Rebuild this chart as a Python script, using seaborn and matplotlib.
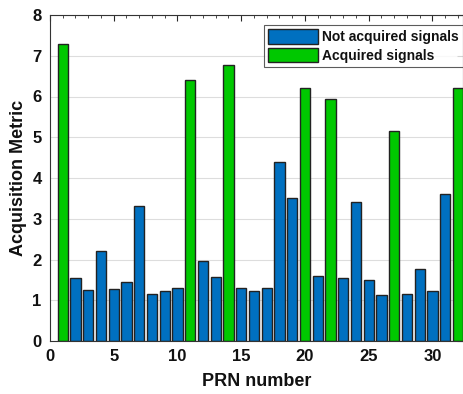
import pandas as pd
import numpy as np
import matplotlib.pyplot as plt
import seaborn as sns
from matplotlib.ticker import MultipleLocator

prn = list(range(1, 33))
metric = [7.3, 1.55, 1.25, 2.2, 1.28, 1.45, 3.32, 1.15, 1.22, 1.3,
          6.4, 1.97, 1.57, 6.77, 1.29, 1.23, 1.29, 4.4, 3.5, 6.2,
          1.59, 5.95, 1.54, 3.4, 1.5, 1.14, 5.15, 1.15, 1.76, 1.23,
          3.61, 6.2]
acquired_prn = [1, 11, 14, 20, 22, 27, 32]

df = pd.DataFrame({'PRN': prn, 'Metric': metric})
df['Status'] = np.where(df['PRN'].isin(acquired_prn), 'Acquired signals', 'Not acquired signals')

sns.set_style('white')
plt.rcParams['font.family'] = ['Liberation Sans', 'DejaVu Sans']
plt.rcParams['font.weight'] = 'bold'

fig = plt.figure(figsize=(4.64, 3.94), dpi=100)
ax = fig.add_axes([50/464, 1 - 341/394, 413/464, 326/394])

sns.barplot(data=df, x='PRN', y='Metric', hue='Status',
            hue_order=['Not acquired signals', 'Acquired signals'],
            palette={'Not acquired signals': '#0070C0', 'Acquired signals': '#00C800'},
            native_scale=True, dodge=False, width=0.8,
            edgecolor='#222222', linewidth=1.0, saturation=1, ax=ax)

ax.set_xlim(0, 32.4)
ax.set_ylim(0, 8)
ax.xaxis.set_major_locator(MultipleLocator(5))
ax.xaxis.set_minor_locator(MultipleLocator(1))
ax.yaxis.set_major_locator(MultipleLocator(1))
ax.tick_params(which='both', direction='in', top=True, right=True, labelsize=12,
               pad=6, labelcolor='#111111')
ax.tick_params(which='major', length=4)
ax.tick_params(which='minor', length=2.5)
for lab in ax.get_xticklabels() + ax.get_yticklabels():
    lab.set_fontweight('bold')
ax.grid(axis='y', color='#dddddd', linewidth=0.8)
ax.set_axisbelow(True)
for s in ax.spines.values():
    s.set_color('#333333')
    s.set_linewidth(0.8)

ax.set_xlabel('PRN number', fontsize=13, fontweight='bold', labelpad=6, color='#111111')
ax.set_ylabel('Acquisition Metric', fontsize=13, fontweight='bold', labelpad=4, color='#111111')

leg = ax.legend(loc='upper right', fontsize=10, frameon=True, fancybox=False,
                handlelength=3.6, handleheight=1.2, borderpad=0.3,
                labelspacing=0.3, handletextpad=0.3, borderaxespad=0.0,
                bbox_to_anchor=(1.0, 0.969))
leg.get_frame().set_edgecolor('#333333')
leg.get_frame().set_linewidth(0.8)
for t in leg.get_texts():
    t.set_fontweight('bold')
    t.set_color('#111111')

fig.savefig('out.png', dpi=100)
